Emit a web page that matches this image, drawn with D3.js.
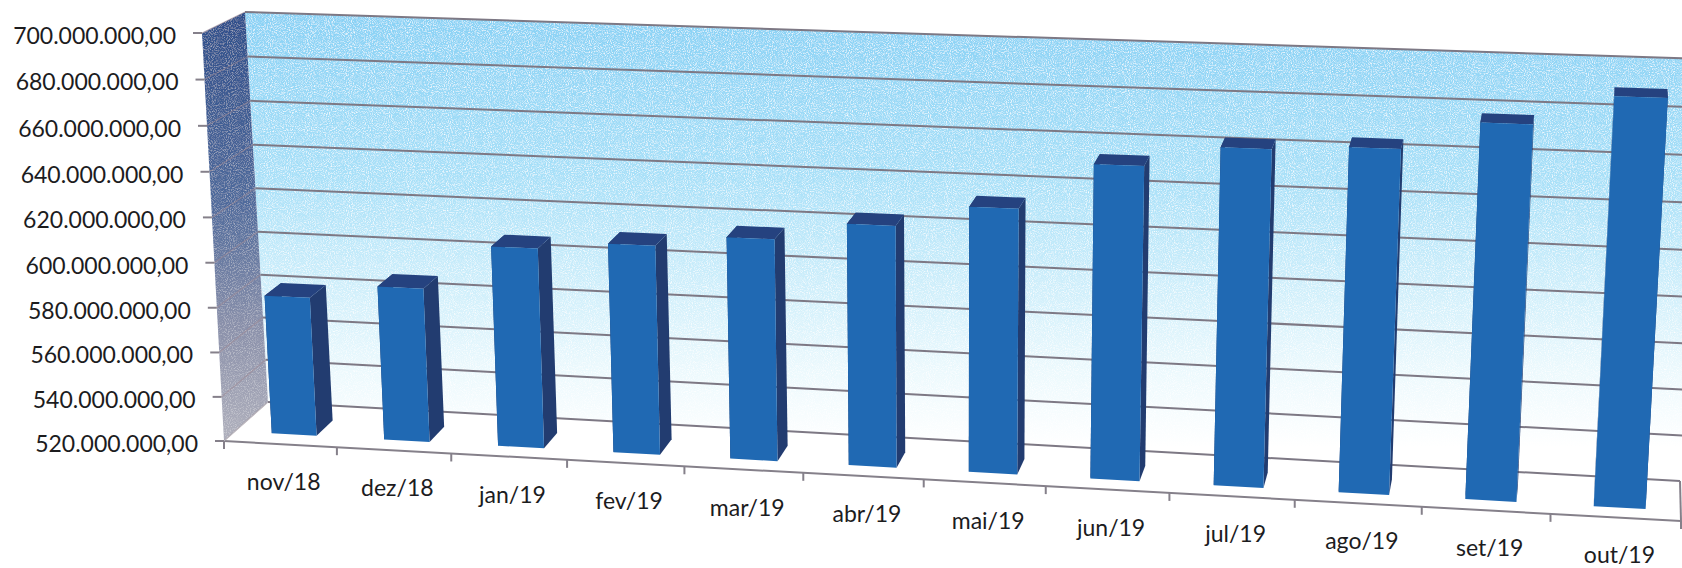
<!DOCTYPE html>
<html>
<head>
<meta charset="utf-8">
<script src="https://d3js.org/d3.v7.min.js"></script>
<style>
  html, body { margin: 0; padding: 0; background: #fff; }
  svg { display: block; }
  text { font-family: Lato, "Open Sans", sans-serif; fill: #1c1c1e; }
</style>
</head>
<body>
<div id="chart"></div>
<script>
// 1: DATA
const months = ["nov/18", "dez/18", "jan/19", "fev/19", "mar/19", "abr/19", "mai/19", "jun/19", "jul/19", "ago/19", "set/19", "out/19"];
const values = [582.5e6, 589e6, 609e6, 612.5e6, 617.5e6, 625.5e6, 635e6, 655e6, 664e6, 666e6, 678e6, 690.5e6];
const yTicks = [520e6, 540e6, 560e6, 580e6, 600e6, 620e6, 640e6, 660e6, 680e6, 700e6];

// 2: GLOBAL VARIABLES
const width = 1682, height = 568;

// corners of the tilted 3D box as they land on the page
const frontPlane = { bl: [224, 441], br: [1681, 521], tr: [1706, 81], tl: [202, 33] };
const backPlane = { bl: [268, 402], br: [1680, 481], tr: [1704, 59], tl: [245, 12] };
const barDepth = [0.25, 0.64];

const svg = d3.select("#chart").append("svg")
    .attr("width", width)
    .attr("height", height);

// unit square -> quad homography
function quadMap(q) {
    const [x0, y0] = q.bl, [x1, y1] = q.br, [x2, y2] = q.tr, [x3, y3] = q.tl;
    const dx1 = x1 - x2, dx2 = x3 - x2, sx = x0 - x1 + x2 - x3;
    const dy1 = y1 - y2, dy2 = y3 - y2, sy = y0 - y1 + y2 - y3;
    const den = dx1 * dy2 - dx2 * dy1;
    const g = (sx * dy2 - dx2 * sy) / den;
    const h = (dx1 * sy - sx * dy1) / den;
    const a = x1 - x0 + g * x1, b = x3 - x0 + h * x3;
    const d = y1 - y0 + g * y1, e = y3 - y0 + h * y3;
    return (u, v) => {
        const w = g * u + h * v + 1;
        return [(a * u + b * v + x0) / w, (d * u + e * v + y0) / w];
    };
}
const front = quadMap(frontPlane), back = quadMap(backPlane);

// u along the months, v up the value axis, d into the page
function proj(u, v, d) {
    const p = front(u, v), q = back(u, v);
    return [p[0] + (q[0] - p[0]) * d, p[1] + (q[1] - p[1]) * d];
}

// 3: SCALES
const x = d3.scaleBand().domain(months).range([0, 1]).paddingInner(0.6).paddingOuter(0.3).align(0.55);
const y = d3.scaleLinear().domain([520e6, 700e6]).range([0, 1]);
const step = x.step();
const brFormat = d3.formatLocale({ decimal: ",", thousands: ".", grouping: [3], currency: ["", ""] }).format(",.2f");
const poly = pts => "M" + pts.map(p => p.map(n => n.toFixed(2)).join(",")).join("L") + "Z";
const seg = (a, b) => "M" + a.join(",") + "L" + b.join(",");

// 4: GRADIENTS AND SCAN GRAIN
const defs = svg.append("defs");
function vGrad(id, stops, y1, y2) {
    const g = defs.append("linearGradient").attr("id", id)
        .attr("gradientUnits", "userSpaceOnUse")
        .attr("x1", 0).attr("x2", 0).attr("y1", y1).attr("y2", y2);
    stops.forEach(s => g.append("stop").attr("offset", s[0]).attr("stop-color", s[1]));
}
vGrad("wallBack", [[0, "#8ad2f5"], [0.35, "#a8e0f8"], [0.6, "#d0effb"], [0.78, "#ecf9fd"], [0.95, "#ffffff"]], 20, 470);
vGrad("wallLeft", [[0, "#2f4f8b"], [0.45, "#506b9c"], [0.75, "#8a90aa"], [1, "#adaebb"]], 20, 430);

function addGrain(id, gain, cut, seed) {
    const f = defs.append("filter").attr("id", id)
        .attr("x", 0).attr("y", 0).attr("width", 1).attr("height", 1);
    f.append("feTurbulence").attr("type", "fractalNoise").attr("baseFrequency", 0.95).attr("numOctaves", 2).attr("seed", seed).attr("result", "n");
    f.append("feColorMatrix").attr("in", "n").attr("type", "matrix")
        .attr("values", `0 0 0 0 1  0 0 0 0 1  0 0 0 0 1  ${gain} 0 0 0 ${cut}`).attr("result", "dots");
    f.append("feComposite").attr("in", "dots").attr("in2", "SourceGraphic").attr("operator", "atop");
}
addGrain("grain", 2.2, -1.0, 4);
addGrain("grainSoft", 0.9, -0.42, 9);

// 5: WALLS AND FLOOR
svg.append("path")
    .attr("d", poly([proj(0, 1, 1), proj(1, 1, 1), proj(1, 0, 1), proj(0, 0, 1)]))
    .attr("fill", "url(#wallBack)")
    .attr("filter", "url(#grain)");
svg.append("path")
    .attr("d", poly([proj(0, 1, 0), proj(0, 1, 1), proj(0, 0, 1), proj(0, 0, 0)]))
    .attr("fill", "url(#wallLeft)")
    .attr("filter", "url(#grainSoft)");

// 6: GRID LINES
svg.append("g").selectAll("path").data(yTicks).join("path")
    .attr("d", t => seg(proj(0, y(t), 1), proj(1, y(t), 1)))
    .attr("fill", "none").attr("stroke", "#7d7884").attr("stroke-width", 2);
svg.append("g").selectAll("path").data(yTicks).join("path")
    .attr("d", t => seg(proj(0, y(t), 0), proj(0, y(t), 1)))
    .attr("fill", "none").attr("stroke", "#a08a94").attr("stroke-opacity", 0.55).attr("stroke-width", 1.2);

// 7: AXES
const base = [proj(0, 0, 0), proj(1, 0, 0)];
svg.append("path").attr("d", seg(base[0], base[1]))
    .attr("stroke", "#85808a").attr("stroke-width", 2).attr("fill", "none");
svg.append("path").attr("d", seg(proj(1, 0, 0), proj(1, 0, 1)))
    .attr("stroke", "#85808a").attr("stroke-width", 2).attr("fill", "none");
svg.append("path").attr("d", seg(proj(0, 0, 0), proj(0, 0, 1)))
    .attr("stroke", "#b9b9c0").attr("stroke-width", 1).attr("fill", "none");

svg.append("g").selectAll("path").data(yTicks).join("path")
    .attr("d", t => { const p = proj(0, y(t), 0); return seg([p[0] - 9, p[1]], p); })
    .attr("stroke", "#85808a").attr("stroke-width", 2);
svg.append("g").selectAll("path").data(d3.range(months.length + 1)).join("path")
    .attr("d", i => { const p = proj(i * step, 0, 0); return seg(p, [p[0], p[1] + 8]); })
    .attr("stroke", "#85808a").attr("stroke-width", 2);

svg.append("g").selectAll("text").data(yTicks).join("text")
    .attr("x", t => proj(0, y(t), 0)[0] - 26)
    .attr("y", t => proj(0, y(t), 0)[1] + 5)
    .attr("text-anchor", "end")
    .attr("dominant-baseline", "middle")
    .style("font-size", "23px")
    .text(t => brFormat(t));

svg.append("g").selectAll("text").data(months).join("text")
    .attr("x", m => proj(x(m) + x.bandwidth() / 2, 0, 0)[0])
    .attr("y", m => proj(x(m) + x.bandwidth() / 2, 0, 0)[1] + 40)
    .attr("text-anchor", "middle")
    .attr("dominant-baseline", "middle")
    .style("font-size", "23px")
    .text(m => m);

// 8: BARS
const bars = svg.append("g").selectAll("g")
    .data(months.map((m, i) => ({ month: m, value: values[i] })))
    .join("g");
const [d0, d1] = barDepth;
const left = d => x(d.month), right = d => x(d.month) + x.bandwidth();

bars.append("path")
    .attr("d", d => poly([proj(left(d), y(d.value), d0), proj(left(d), y(d.value), d1), proj(left(d), 0, d1), proj(left(d), 0, d0)]))
    .attr("fill", "#1f3a6e");
bars.append("path")
    .attr("d", d => poly([proj(right(d), y(d.value), d0), proj(right(d), y(d.value), d1), proj(right(d), 0, d1), proj(right(d), 0, d0)]))
    .attr("fill", "#223c70");
bars.append("path")
    .attr("d", d => poly([proj(left(d), y(d.value), d0), proj(right(d), y(d.value), d0), proj(right(d), y(d.value), d1), proj(left(d), y(d.value), d1)]))
    .attr("fill", "#25427f");
bars.append("path")
    .attr("d", d => poly([proj(left(d), y(d.value), d0), proj(right(d), y(d.value), d0), proj(right(d), 0, d0), proj(left(d), 0, d0)]))
    .attr("fill", "#2069b3");
</script>
</body>
</html>
